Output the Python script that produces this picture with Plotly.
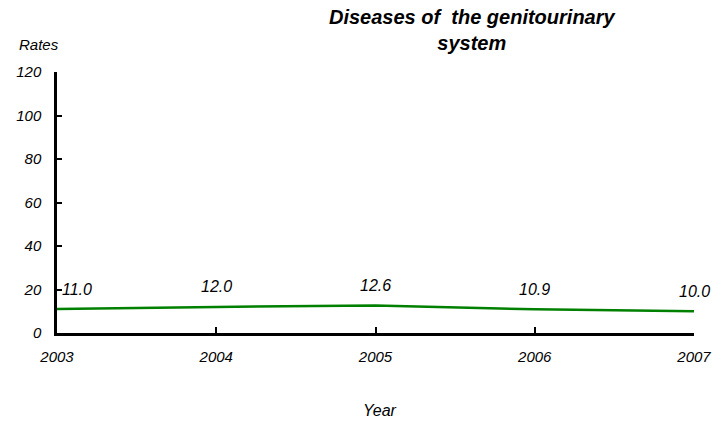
import plotly.graph_objects as go

# Rates of diseases of the genitourinary system by year
years = [2003, 2004, 2005, 2006, 2007]
rates = [11.0, 12.0, 12.6, 10.9, 10.0]
rate_labels = ['11.0', '12.0', '12.6', '10.9', '10.0']
y_ticks = [0, 20, 40, 60, 80, 100, 120]

font_family = 'Liberation Sans, Arial, sans-serif'

W, H = 724, 425
ml, mr, mt, mb = 57, 30, 72, 92
pw, ph = W - ml - mr, H - mt - mb

# convert pixel positions in the picture into paper coords
def to_paper(px, py):
    return (px - ml) / pw, (H - mb - py) / ph

fig = go.Figure()

fig.add_trace(go.Scatter(
    x=years,
    y=rates,
    mode='lines',
    line=dict(color='#008000', width=2.5),
    hoverinfo='x+y',
    showlegend=False,
))

# Value labels above each point (first one nudged right like the original)
for i, (yr, val, lab) in enumerate(zip(years, rates, rate_labels)):
    fig.add_annotation(
        x=yr, y=val, text=lab, showarrow=False,
        xanchor='left' if i == 0 else 'center',
        xshift=3 if i == 0 else 0,
        yshift=20,
        font=dict(family=font_family, size=16, color='black', style='italic'),
    )

# Title and axis titles
tx, ty = to_paper(472, 30)
fig.add_annotation(
    x=tx, y=ty, xref='paper', yref='paper',
    text='<b>Diseases of  the genitourinary<br>system</b>',
    showarrow=False, xanchor='center', yanchor='middle',
    font=dict(family=font_family, size=20, color='black', style='italic'),
)
rx, ry = to_paper(17, 44)
fig.add_annotation(
    x=rx, y=ry, xref='paper', yref='paper', text='Rates', showarrow=False,
    xanchor='left', yanchor='middle',
    font=dict(family=font_family, size=15, color='black', style='italic'),
)
yx, yy = to_paper(380, 410)
fig.add_annotation(
    x=yx, y=yy, xref='paper', yref='paper', text='Year', showarrow=False,
    xanchor='center', yanchor='middle',
    font=dict(family=font_family, size=16, color='black', style='italic'),
)

fig.update_layout(
    width=W, height=H,
    margin=dict(l=ml, r=mr, t=mt, b=mb),
    paper_bgcolor='white',
    plot_bgcolor='white',
    font=dict(family=font_family, size=14, color='black', style='italic'),
    xaxis=dict(
        range=[2003, 2007], tickvals=years, ticktext=[str(y) for y in years],
        showgrid=False, zeroline=False, showline=True, linecolor='black', linewidth=2.5,
        ticks='inside', ticklen=6, tickwidth=2, tickcolor='black',
        ticklabelstandoff=8,
        tickfont=dict(family=font_family, size=15, style='italic'),
    ),
    yaxis=dict(
        range=[0, 120], tickvals=y_ticks,
        showgrid=False, zeroline=False, showline=True, linecolor='black', linewidth=2.5,
        ticks='inside', ticklen=5, tickwidth=2, tickcolor='black',
        ticklabelstandoff=10,
        tickfont=dict(family=font_family, size=15, style='italic'),
    ),
)

# drop the default page margin so the chart fills the window exactly
fig.write_html(
    'out.html',
    config={'displayModeBar': False},
    post_script="document.body.style.margin='0';",
)
